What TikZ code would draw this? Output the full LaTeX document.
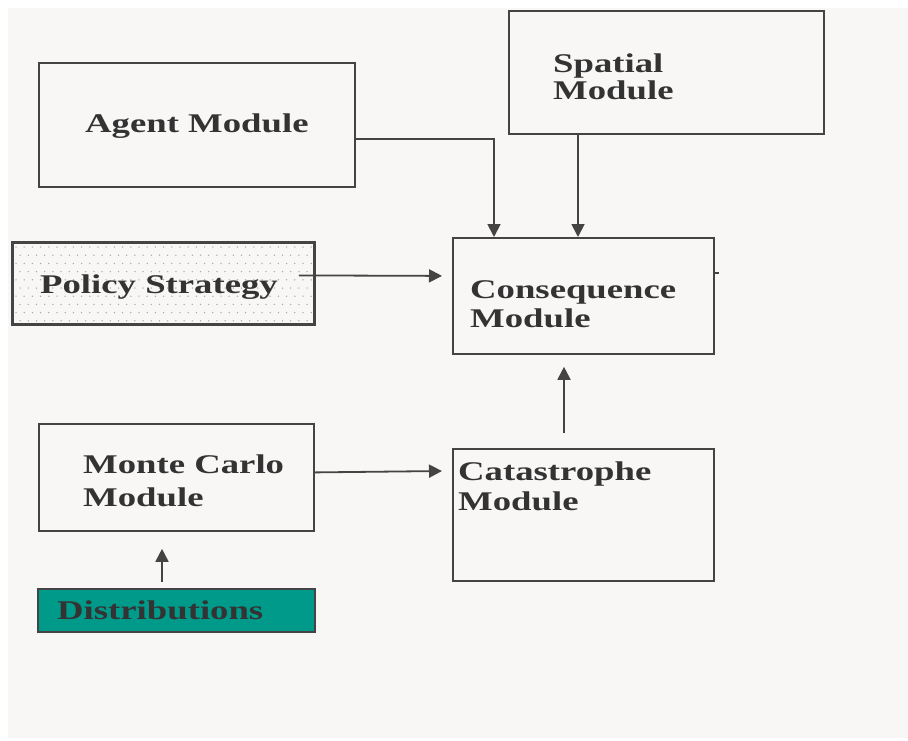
\documentclass[tikz,border=0pt]{standalone}
\usepackage{fontspec}
\usetikzlibrary{arrows.meta}
\newfontfamily\boxfont{Liberation Serif}[FakeStretch=1.36]
\definecolor{pagebg}{HTML}{F8F7F5}
\definecolor{edge}{HTML}{444444}
\definecolor{ink}{HTML}{333333}
\definecolor{teal}{HTML}{009A8A}
\definecolor{dotgray}{HTML}{A8A8A8}
\begin{document}
\begin{tikzpicture}[x=1pt,y=-1pt,
  box/.style={draw=edge,line width=1.8pt,fill=pagebg,anchor=north west,inner sep=0pt},
  lbl/.style={text=ink,anchor=base west,inner sep=0pt,align=left,
    font=\boxfont\bfseries\fontsize{27}{30}\selectfont},
  link/.style={draw=edge,line width=1.8pt,-{Triangle[length=13pt,width=13pt]}}]
\useasboundingbox (0,0) rectangle (908,740);
\fill[white] (0,0) rectangle (908,740);
\fill[pagebg] (8,8) rectangle (908,738);

% module boxes
\node[box,minimum width=316pt,minimum height=124pt] (agent) at (38,62) {};
\node[box,minimum width=315pt,minimum height=123pt] (spatial) at (508,10) {};
\node[box,minimum width=301pt,minimum height=81pt] (policy) at (12,242) {};
\node[box,minimum width=261pt,minimum height=116pt] (cons) at (452,237) {};
\node[box,minimum width=275pt,minimum height=107pt] (mc) at (38,423) {};
\node[box,minimum width=261pt,minimum height=132pt] (cat) at (452,448) {};
\node[box,fill=teal,minimum width=277pt,minimum height=43pt] (dist) at (37,588) {};

% dotted fill of the policy box
\begin{scope}
  \clip ([shift={(1pt,-1pt)}]policy.north west) rectangle ([shift={(-1pt,1pt)}]policy.south east);
  \foreach \r in {0,...,10}{
    \foreach \c in {0,...,37}{
      \pgfmathsetmacro{\xx}{16+\c*8.2+mod(\r,2)*4.1}
      \pgfmathsetmacro{\yy}{247+\r*8.2}
      \fill[dotgray] (\xx,\yy) circle (0.75pt);
    }
  }
\end{scope}
\draw[edge,line width=1.8pt] (policy.north west) rectangle (policy.south east);

% small tick on the right side of the consequence box
\draw[edge,line width=1.2pt] ([yshift=23pt]cons.east) -- ++(4,0);

% labels (two-line labels are placed by the baseline of their last line)
\node[lbl] (agentlbl) at (85,132) {Agent Module};
\node[lbl,font=\boxfont\bfseries\fontsize{27}{27}\selectfont] (spatiallbl) at (553,99) {Spatial\\Module};
\node[lbl] (policylbl) at (40,293) {Policy Strategy};
\node[lbl,font=\boxfont\bfseries\fontsize{27}{29}\selectfont] (conslbl) at (470,327) {Consequence\\Module};
\node[lbl,font=\boxfont\bfseries\fontsize{27}{33}\selectfont] (mclbl) at (83,506) {Monte Carlo\\Module};
\node[lbl] (catlbl) at (458,510) {Catastrophe\\Module};
\node[lbl] (distlbl) at (57,619) {Distributions};

% connectors
\draw[link] ([yshift=-14pt]agent.east) -| ([xshift=42pt]cons.north west);
\draw[link] ([xshift=70pt]spatial.south west) -- ([xshift=126pt]cons.north west);
\draw[link] ([shift={(-16pt,8pt)}]policy.east) -- ([shift={(-10pt,20pt)}]cons.west);
\draw[link] ([shift={(112pt,15pt)}]cat.north west) -- ([shift={(112pt,-12pt)}]cons.south west);
\draw[link] ([yshift=5pt]mc.east) -- ([shift={(-10pt,-23pt)}]cat.north west);
\draw[link] ([shift={(125pt,6pt)}]dist.north west) -- ([shift={(124pt,-17pt)}]mc.south west);
\end{tikzpicture}
\end{document}
